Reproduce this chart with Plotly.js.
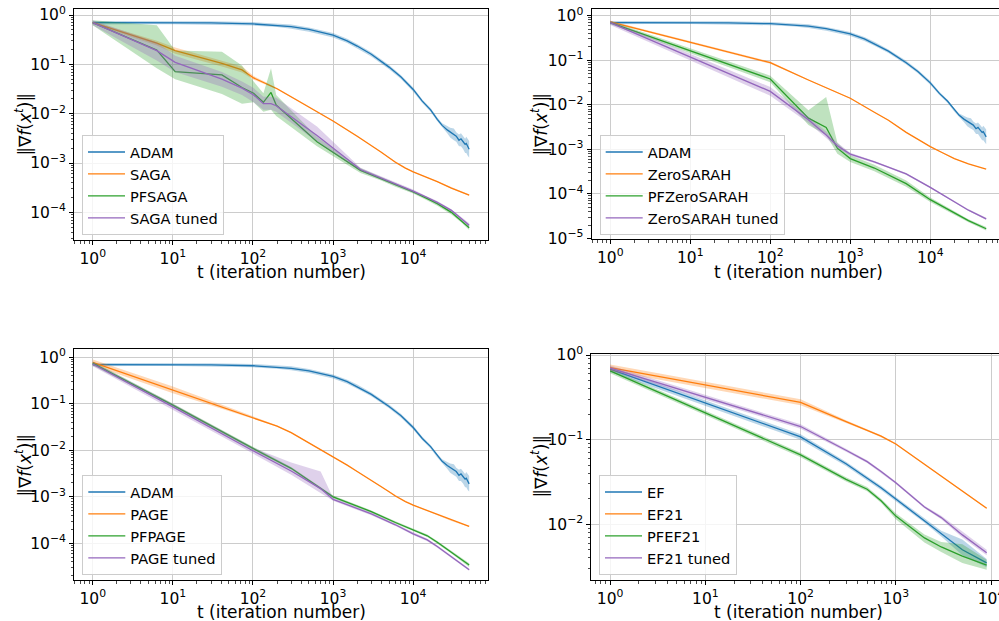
<!DOCTYPE html>
<html><head><meta charset="utf-8">
<script src="https://cdn.plot.ly/plotly-3.0.1.min.js"></script>
<style>html,body{margin:0;padding:0;overflow:hidden;background:#fff}#chart{width:1010px;height:621px}</style>
</head><body><div id="chart"></div>
<script>
// ---------- shared ADAM series ----------
const adamT = [1, 3, 10, 30, 100, 200, 300, 500, 700, 1000, 1500, 2000, 3000, 5000, 7000, 10000, 13000, 16500, 20000, 23000, 26600, 29000, 32200, 34500, 37300, 39500, 42100, 44500, 46000, 48000, 50000];
const adamMean = [0.70, 0.70, 0.70, 0.69, 0.66, 0.62, 0.58, 0.51, 0.45, 0.39, 0.30, 0.235, 0.16, 0.088, 0.056, 0.031, 0.018, 0.012, 0.0077, 0.0058, 0.0047, 0.0042, 0.0037, 0.0035, 0.0029, 0.0031, 0.0027, 0.0024, 0.0025, 0.0021, 0.0019];
const adamLo = [0.64, 0.65, 0.65, 0.64, 0.61, 0.57, 0.53, 0.46, 0.41, 0.35, 0.27, 0.21, 0.145, 0.080, 0.051, 0.028, 0.0165, 0.011, 0.0070, 0.0052, 0.0040, 0.0033, 0.0029, 0.0027, 0.0022, 0.0022, 0.0019, 0.0016, 0.0016, 0.0014, 0.0013];
const adamHi = [0.76, 0.76, 0.76, 0.75, 0.72, 0.68, 0.64, 0.56, 0.50, 0.43, 0.33, 0.26, 0.175, 0.097, 0.061, 0.034, 0.0195, 0.013, 0.0084, 0.0064, 0.0056, 0.0052, 0.0050, 0.0042, 0.0038, 0.0040, 0.0035, 0.0031, 0.0034, 0.0031, 0.0028];

// ---------- panel 1: SAGA ----------
const sagaT = [1, 6.3, 10.7, 41, 73, 102, 200, 400, 1000, 2000, 3000, 4000, 5000, 6000, 8000, 10000, 14000, 20000, 30000, 50000];
const sagaMean = [0.70, 0.27, 0.19, 0.105, 0.077, 0.053, 0.032, 0.017, 0.0071, 0.0035, 0.0023, 0.00165, 0.00128, 0.00104, 0.00079, 0.00066, 0.00053, 0.00042, 0.00031, 0.000224];
const sagaLo = [0.66, 0.24, 0.165, 0.09, 0.068, 0.049, 0.031, 0.0165, 0.0069, 0.0034, 0.00224, 0.00161, 0.00125, 0.00101, 0.00077, 0.00064, 0.00052, 0.00041, 0.000302, 0.000218];
const sagaHi = [0.74, 0.30, 0.22, 0.12, 0.09, 0.058, 0.033, 0.0175, 0.0073, 0.0036, 0.00236, 0.00169, 0.00131, 0.00107, 0.00081, 0.00068, 0.00054, 0.00043, 0.000318, 0.00023];

const pfsagaT = [1, 6.3, 10.7, 41, 73, 102, 135, 168, 195, 630, 2200, 3900, 6000, 10000, 15000, 20000, 30000, 40000, 50000];
const pfsagaMean = [0.70, 0.195, 0.071, 0.061, 0.034, 0.026, 0.017, 0.027, 0.015, 0.0027, 0.00071, 0.00049, 0.00036, 0.00026, 0.00019, 0.00015, 0.0001, 0.000068, 0.000049];
const pfsagaLo = [0.62, 0.083, 0.05, 0.025, 0.016, 0.017, 0.011, 0.012, 0.009, 0.0022, 0.00063, 0.00045, 0.00033, 0.00024, 0.000175, 0.000137, 0.000091, 0.000062, 0.000044];
const pfsagaHi = [0.78, 0.62, 0.19, 0.18, 0.095, 0.045, 0.026, 0.083, 0.024, 0.0034, 0.00079, 0.00053, 0.00039, 0.00028, 0.000205, 0.000163, 0.000109, 0.000074, 0.000055];

const sagaTunedT = [1, 6.3, 10.7, 41, 73, 102, 135, 168, 195, 630, 2200, 3900, 6000, 10000, 15000, 20000, 30000, 40000, 50000];
const sagaTunedMean = [0.70, 0.19, 0.11, 0.05, 0.033, 0.024, 0.016, 0.016, 0.0145, 0.0036, 0.00074, 0.00051, 0.00038, 0.00027, 0.0002, 0.00016, 0.00011, 0.000075, 0.000055];
const sagaTunedLo = [0.62, 0.12, 0.07, 0.035, 0.024, 0.017, 0.012, 0.012, 0.011, 0.0027, 0.00068, 0.00048, 0.00035, 0.00025, 0.00019, 0.00015, 0.000104, 0.000071, 0.00005];
const sagaTunedHi = [0.78, 0.28, 0.15, 0.07, 0.045, 0.033, 0.022, 0.022, 0.021, 0.0055, 0.0008, 0.00054, 0.0004, 0.00029, 0.00021, 0.00017, 0.000116, 0.000079, 0.00006];

// ---------- panel 2: ZeroSARAH ----------
const zsT = [1, 100, 300, 1000, 2000, 3000, 5000, 7400, 10000, 14000, 20000, 30000, 50000];
const zsMean = [0.73, 0.088, 0.036, 0.014, 0.0068, 0.0045, 0.0024, 0.0016, 0.00115, 0.00085, 0.00062, 0.00047, 0.00036];
const zsLo = [0.69, 0.083, 0.035, 0.0137, 0.0067, 0.0044, 0.00235, 0.00157, 0.00113, 0.00083, 0.00061, 0.00046, 0.000353];
const zsHi = [0.77, 0.093, 0.037, 0.0143, 0.0069, 0.0046, 0.00245, 0.00163, 0.00117, 0.00087, 0.00063, 0.00048, 0.000367];

const pfzsT = [1, 100, 300, 500, 690, 1000, 2000, 3000, 5000, 10000, 20000, 30000, 50000];
const pfzsMean = [0.70, 0.038, 0.005, 0.0031, 0.00106, 0.00062, 0.00038, 0.00027, 0.00017, 0.000074, 0.000037, 0.000025, 0.0000165];
const pfzsLo = [0.64, 0.032, 0.0035, 0.0021, 0.0008, 0.00052, 0.00032, 0.00023, 0.000145, 0.000066, 0.000034, 0.000023, 0.000015];
const pfzsHi = [0.76, 0.045, 0.0075, 0.015, 0.0014, 0.00074, 0.00045, 0.00032, 0.0002, 0.000083, 0.00004, 0.000027, 0.000018];

const zsTunedT = [1, 100, 300, 500, 690, 1000, 2000, 3000, 5000, 10000, 20000, 30000, 50000];
const zsTunedMean = [0.70, 0.020, 0.0046, 0.0021, 0.0012, 0.00078, 0.00052, 0.0004, 0.00028, 0.00014, 0.000068, 0.000043, 0.0000275];
const zsTunedLo = [0.62, 0.016, 0.0039, 0.0018, 0.00105, 0.00072, 0.00049, 0.00038, 0.000265, 0.000133, 0.000065, 0.000041, 0.000026];
const zsTunedHi = [0.78, 0.025, 0.0054, 0.0025, 0.0014, 0.00084, 0.00055, 0.00042, 0.000295, 0.000147, 0.000071, 0.000045, 0.000029];

// ---------- panel 3: PAGE ----------
const pageT = [1, 10, 100, 200, 300, 500, 700, 1000, 1500, 2000, 3000, 4000, 5000, 6000, 8000, 10000, 14000, 20000, 30000, 50000];
const pageMean = [0.78, 0.20, 0.051, 0.033, 0.024, 0.0145, 0.0105, 0.0074, 0.0048, 0.0035, 0.0023, 0.00165, 0.00128, 0.00104, 0.00079, 0.00066, 0.00053, 0.00042, 0.00031, 0.00023];
const pageLo = [0.68, 0.17, 0.048, 0.032, 0.0233, 0.0141, 0.0102, 0.0072, 0.0047, 0.0034, 0.00224, 0.00161, 0.00125, 0.00101, 0.00077, 0.00064, 0.00052, 0.00041, 0.000302, 0.000224];
const pageHi = [0.90, 0.235, 0.054, 0.034, 0.0247, 0.0149, 0.0108, 0.0076, 0.0049, 0.0036, 0.00236, 0.00169, 0.00131, 0.00107, 0.00081, 0.00068, 0.00054, 0.00043, 0.000318, 0.000236];

const pfpageT = [1, 10, 100, 300, 1000, 3000, 6000, 10000, 15000, 20000, 30000, 40000, 50000];
const pfpageMean = [0.74, 0.094, 0.011, 0.0041, 0.001, 0.00048, 0.00028, 0.000195, 0.000145, 0.000105, 0.000064, 0.000045, 0.000034];
const pfpageLo = [0.67, 0.086, 0.0101, 0.0038, 0.00093, 0.00045, 0.000263, 0.000183, 0.000136, 0.000098, 0.00006, 0.000042, 0.000031];
const pfpageHi = [0.81, 0.102, 0.0119, 0.0044, 0.00107, 0.00051, 0.000297, 0.000207, 0.000154, 0.000112, 0.000068, 0.000048, 0.000037];

const pageTunedT = [1, 10, 100, 300, 700, 1000, 3000, 6000, 10000, 15000, 20000, 30000, 40000, 50000];
const pageTunedMean = [0.72, 0.086, 0.0098, 0.0036, 0.0015, 0.00088, 0.00043, 0.00025, 0.00016, 0.000118, 0.000085, 0.000052, 0.000036, 0.000027];
const pageTunedLo = [0.64, 0.074, 0.0085, 0.003, 0.0012, 0.00082, 0.0004, 0.000235, 0.00015, 0.000111, 0.00008, 0.000049, 0.000034, 0.0000255];
const pageTunedHi = [0.80, 0.10, 0.0115, 0.0055, 0.0035, 0.00095, 0.00046, 0.000265, 0.00017, 0.000125, 0.00009, 0.000055, 0.000038, 0.0000285];

// ---------- panel 4: EF ----------
const efT = [1, 100, 300, 500, 700, 1000, 2000, 3000, 5000, 9000];
const efMean = [0.68, 0.108, 0.052, 0.035, 0.027, 0.0199, 0.011, 0.0078, 0.005, 0.0035];
const efLo = [0.63, 0.10, 0.049, 0.033, 0.0255, 0.0187, 0.0104, 0.0072, 0.0043, 0.0031];
const efHi = [0.73, 0.116, 0.055, 0.037, 0.0285, 0.021, 0.0116, 0.0084, 0.0066, 0.0039];

const ef21Mean = [0.71, 0.276, 0.163, 0.13, 0.11, 0.089, 0.051, 0.037, 0.0247, 0.0155];
const ef21Lo = [0.65, 0.255, 0.157, 0.126, 0.107, 0.087, 0.050, 0.036, 0.0242, 0.0152];
const ef21Hi = [0.77, 0.30, 0.17, 0.134, 0.113, 0.091, 0.052, 0.038, 0.0252, 0.0158];

const pfef21Mean = [0.65, 0.066, 0.034, 0.026, 0.019, 0.0125, 0.0069, 0.0054, 0.0042, 0.0033];
const pfef21Lo = [0.61, 0.062, 0.032, 0.0245, 0.018, 0.0115, 0.0061, 0.0047, 0.0035, 0.0029];
const pfef21Hi = [0.69, 0.07, 0.036, 0.0275, 0.020, 0.0135, 0.0076, 0.0062, 0.0058, 0.0038];

const ef21TunedMean = [0.70, 0.143, 0.075, 0.055, 0.042, 0.031, 0.016, 0.012, 0.0075, 0.0046];
const ef21TunedLo = [0.65, 0.135, 0.072, 0.053, 0.0405, 0.030, 0.0155, 0.0115, 0.007, 0.0043];
const ef21TunedHi = [0.75, 0.152, 0.078, 0.057, 0.0435, 0.032, 0.0166, 0.0126, 0.0082, 0.005];

// ---------- tick labels & titles ----------
const xTickVals = [1, 10, 100, 1000, 10000];
const xTickText = ['10<sup>0</sup>', '10<sup>1</sup>', '10<sup>2</sup>', '10<sup>3</sup>', '10<sup>4</sup>'];
const yTickVals = [1, 0.1, 0.01, 0.001, 0.0001, 0.00001];
const yTickText = ['10<sup>0</sup>', '10<sup>−1</sup>', '10<sup>−2</sup>', '10<sup>−3</sup>', '10<sup>−4</sup>', '10<sup>−5</sup>'];
const xTitle = 't (iteration number)';
const yTitle = '‖∇<i>f</i>(<i>x</i><sup><i>t</i></sup>)‖';

const legendNames = [
  ['ADAM', 'SAGA', 'PFSAGA', 'SAGA tuned'],
  ['ADAM', 'ZeroSARAH', 'PFZeroSARAH', 'ZeroSARAH tuned'],
  ['ADAM', 'PAGE', 'PFPAGE', 'PAGE tuned'],
  ['EF', 'EF21', 'PFEF21', 'EF21 tuned']
];

const C = ['#1f77b4', '#ff7f0e', '#2ca02c', '#9467bd'];
const CF = ['rgba(31,119,180,0.3)', 'rgba(255,127,14,0.3)', 'rgba(44,160,44,0.3)', 'rgba(148,103,189,0.3)'];

const traces = [];
function addSeries(p, ci, name, t, mean, lo, hi) {
  const xa = p === 1 ? 'x' : 'x' + p;
  const ya = p === 1 ? 'y' : 'y' + p;
  traces.push({
    x: t, y: mean, xaxis: xa, yaxis: ya, type: 'scatter', mode: 'lines', name: name,
    line: {color: C[ci], width: 1.3}, legend: p === 1 ? 'legend' : 'legend' + p, hoverinfo: 'skip'
  });
  traces.push({
    x: t.concat(t.slice().reverse()), y: hi.concat(lo.slice().reverse()),
    xaxis: xa, yaxis: ya, type: 'scatter', mode: 'lines', fill: 'toself',
    fillcolor: CF[ci], line: {width: 0, color: 'rgba(0,0,0,0)'}, showlegend: false, hoverinfo: 'skip'
  });
}

addSeries(1, 0, legendNames[0][0], adamT, adamMean, adamLo, adamHi);
addSeries(1, 1, legendNames[0][1], sagaT, sagaMean, sagaLo, sagaHi);
addSeries(1, 2, legendNames[0][2], pfsagaT, pfsagaMean, pfsagaLo, pfsagaHi);
addSeries(1, 3, legendNames[0][3], sagaTunedT, sagaTunedMean, sagaTunedLo, sagaTunedHi);

addSeries(2, 0, legendNames[1][0], adamT, adamMean, adamLo, adamHi);
addSeries(2, 1, legendNames[1][1], zsT, zsMean, zsLo, zsHi);
addSeries(2, 2, legendNames[1][2], pfzsT, pfzsMean, pfzsLo, pfzsHi);
addSeries(2, 3, legendNames[1][3], zsTunedT, zsTunedMean, zsTunedLo, zsTunedHi);

addSeries(3, 0, legendNames[2][0], adamT, adamMean, adamLo, adamHi);
addSeries(3, 1, legendNames[2][1], pageT, pageMean, pageLo, pageHi);
addSeries(3, 2, legendNames[2][2], pfpageT, pfpageMean, pfpageLo, pfpageHi);
addSeries(3, 3, legendNames[2][3], pageTunedT, pageTunedMean, pageTunedLo, pageTunedHi);

addSeries(4, 0, legendNames[3][0], efT, efMean, efLo, efHi);
addSeries(4, 1, legendNames[3][1], efT, ef21Mean, ef21Lo, ef21Hi);
addSeries(4, 2, legendNames[3][2], efT, pfef21Mean, pfef21Lo, pfef21Hi);
addSeries(4, 3, legendNames[3][3], efT, ef21TunedMean, ef21TunedLo, ef21TunedHi);

// minor tick positions (2..9 per decade)
function minorVals(lo, hi) {
  const v = [];
  for (let k = lo; k <= hi; k++) for (let m = 2; m <= 9; m++) v.push(m * Math.pow(10, k));
  return v;
}

const W = 1010, H = 621;
const FONT = 'DejaVu Sans';
function xAxis(range, d0, d1, anchor) {
  return {
    type: 'log', range: range, domain: [d0 / W, d1 / W], anchor: anchor,
    showline: true, mirror: true, linecolor: '#000', linewidth: 1,
    ticks: 'outside', ticklen: 4, tickwidth: 1, tickcolor: '#000',
    tickmode: 'array', tickvals: xTickVals, ticktext: xTickText,
    showgrid: true, gridcolor: '#cccccc', gridwidth: 1, zeroline: false,
    tickfont: {family: FONT, size: 15.5, color: '#000'},
    minor: {tickmode: 'array', tickvals: minorVals(-1, 4), ticks: 'outside', ticklen: 2.5, tickwidth: 0.7, tickcolor: '#000', showgrid: false}
  };
}
function yAxis(range, top, bottom, anchor) {
  return {
    type: 'log', range: range, domain: [1 - bottom / H, 1 - top / H], anchor: anchor,
    showline: true, mirror: true, linecolor: '#000', linewidth: 1,
    ticks: 'outside', ticklen: 4, tickwidth: 1, tickcolor: '#000',
    tickmode: 'array', tickvals: yTickVals, ticktext: yTickText,
    showgrid: true, gridcolor: '#cccccc', gridwidth: 1, zeroline: false,
    tickfont: {family: FONT, size: 15.5, color: '#000'},
    minor: {tickmode: 'array', tickvals: minorVals(-6, 0), ticks: 'outside', ticklen: 2.5, tickwidth: 0.7, tickcolor: '#000', showgrid: false}
  };
}
function legendAt(left, top) {
  return {
    x: left / W, y: 1 - top / H, xanchor: 'left', yanchor: 'top',
    bgcolor: 'rgba(255,255,255,0.8)', bordercolor: '#cccccc', borderwidth: 1,
    itemwidth: 37, font: {family: FONT, size: 14.6, color: '#000'}
  };
}
function yTitleAt(cx, cy) {
  return {
    text: yTitle, xref: 'paper', yref: 'paper', x: cx / W, y: 1 - cy / H,
    xanchor: 'center', yanchor: 'middle', textangle: -90, showarrow: false,
    font: {family: FONT, size: 17, color: '#000'}
  };
}
function xTitleAt(cx, cy) {
  return {
    text: xTitle, xref: 'paper', yref: 'paper', x: cx / W, y: 1 - cy / H,
    xanchor: 'center', yanchor: 'middle', showarrow: false,
    font: {family: FONT, size: 17, color: '#000'}
  };
}

const layout = {
  width: W, height: H, margin: {l: 0, r: 0, t: 0, b: 0},
  paper_bgcolor: '#fff', plot_bgcolor: '#fff', showlegend: true,
  font: {family: FONT, color: '#000'},
  xaxis: xAxis([-0.234, 4.934], 74, 488, 'y'),
  yaxis: yAxis([-4.56, 0.116], 9.3, 240, 'x'),
  xaxis2: xAxis([-0.234, 4.934], 591.5, 1005, 'y2'),
  yaxis2: yAxis([-5.02, 0.143], 9.3, 239.3, 'x2'),
  xaxis3: xAxis([-0.234, 4.934], 74, 488, 'y3'),
  yaxis3: yAxis([-4.79, 0.18], 349, 580, 'x3'),
  xaxis4: xAxis([-0.198, 4.152], 591.3, 1005.5, 'y4'),
  yaxis4: yAxis([-2.658, 0.012], 354, 580, 'x4'),
  legend: legendAt(82, 135),
  legend2: legendAt(599.7, 135),
  legend3: legendAt(82.3, 475),
  legend4: legendAt(599, 475),
  annotations: [
    yTitleAt(23.5, 125), yTitleAt(539.5, 125), yTitleAt(23.5, 466), yTitleAt(539.5, 467),
    xTitleAt(281, 272.5), xTitleAt(798, 272.5), xTitleAt(281, 612), xTitleAt(798, 612)
  ]
};

Plotly.newPlot('chart', traces, layout, {staticPlot: true, displayModeBar: false});
</script></body></html>
